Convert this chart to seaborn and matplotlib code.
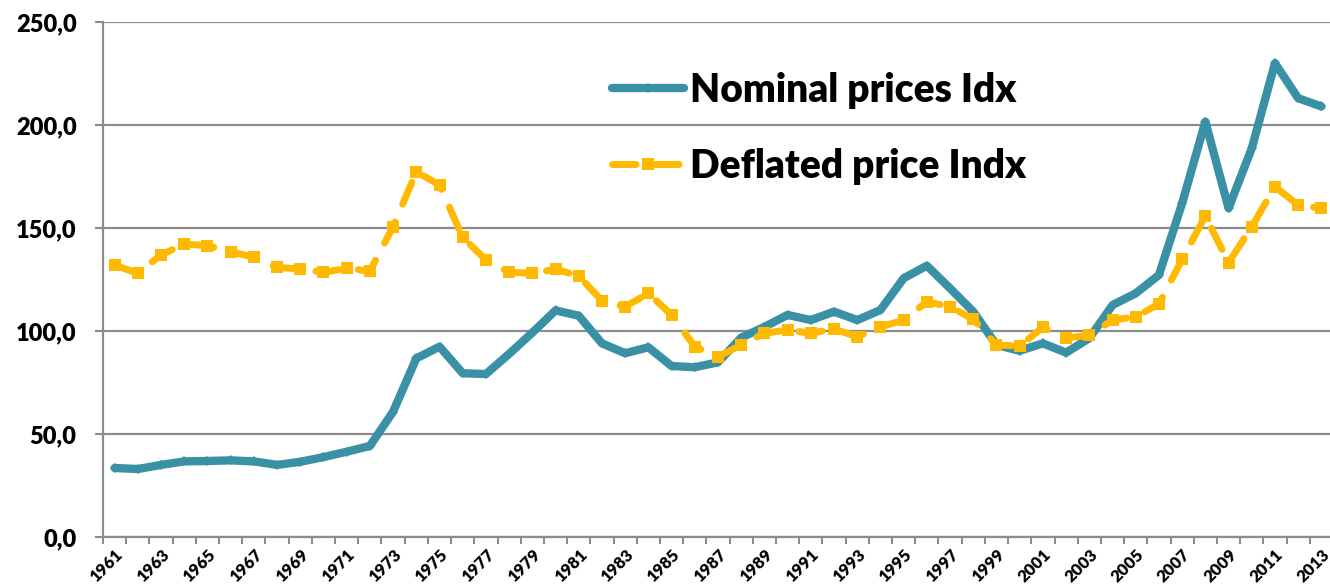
import numpy as np
import pandas as pd
import matplotlib
matplotlib.use("Agg")
import matplotlib.pyplot as plt
import seaborn as sns
from matplotlib.ticker import MultipleLocator, FixedLocator

years = list(range(1961, 2014))

nominal_idx = [33.5, 33.0, 35.0, 36.7, 36.9, 37.2, 36.7, 35.0, 36.5, 38.8,
               41.4, 44.2, 60.8, 86.7, 92.4, 79.5, 79.1, 88.9, 99.2, 110.0,
               107.4, 94.0, 89.2, 92.1, 83.0, 82.4, 84.8, 96.8, 102.0, 107.8,
               105.3, 109.4, 105.3, 110.2, 125.6, 131.7, 120.7, 109.4, 93.2, 90.4,
               94.0, 89.5, 96.5, 112.6, 118.3, 127.2, 162.0, 201.6, 159.6, 188.7,
               230.0, 213.0, 209.0]

deflated_idx = [132.0, 128.0, 136.9, 142.2, 141.4, 138.5, 135.8, 130.9, 130.1, 128.5,
                130.4, 129.1, 150.6, 177.3, 170.9, 145.5, 134.5, 128.5, 128.0, 130.0,
                126.7, 114.7, 111.8, 118.3, 107.8, 92.4, 87.5, 93.2, 98.9, 100.5,
                98.9, 101.0, 97.2, 102.0, 105.3, 114.2, 111.8, 105.7, 93.2, 92.7,
                101.8, 96.5, 98.0, 105.3, 106.9, 113.1, 134.8, 155.8, 133.2, 150.6,
                170.0, 161.2, 159.6]

y_ticks = [0, 50, 100, 150, 200, 250]

df = pd.DataFrame({"year": years, "nominal": nominal_idx, "deflated": deflated_idx})

sns.set_style("white")
plt.rcParams["font.family"] = ["Lato", "DejaVu Sans"]
plt.rcParams["text.color"] = "black"
plt.rcParams["xtick.labelcolor"] = "black"
plt.rcParams["ytick.labelcolor"] = "black"

fig = plt.figure(figsize=(13.3, 5.87), dpi=100)
ax = fig.add_axes([103 / 1330, 1 - 537 / 587, 1230 / 1330, 515 / 587])

blue = "#3A91A6"
gold = "#FFB900"

# nominal series: thick solid line with small diamonds
sns.lineplot(data=df, x="year", y="nominal", ax=ax, color=blue, linewidth=6,
             solid_capstyle="round", marker="D", markersize=5, markeredgewidth=0,
             label="Nominal prices Idx")
# deflated series: long dashes with square markers
sns.lineplot(data=df, x="year", y="deflated", ax=ax, color=gold, linewidth=5,
             linestyle=(0, (3.4, 2.8)), dash_capstyle="round",
             marker="s", markersize=8, markeredgewidth=0,
             label="Deflated price Indx")

ax.set_xlim(years[0] - 0.5, years[-1] + 0.5)
ax.set_ylim(0, 250)

ax.yaxis.set_major_locator(FixedLocator(y_ticks))
ax.set_yticklabels([f"{v:.1f}".replace(".", ",") for v in y_ticks],
                   fontsize=17, fontweight="heavy")
ax.grid(axis="y", color="#8c8c8c", linewidth=1.6)
ax.grid(axis="x", visible=False)
ax.set_axisbelow(True)

ax.set_xticks(years[::2])
ax.set_xticklabels([str(y) for y in years[::2]], rotation=45, ha="right",
                   rotation_mode="anchor", fontsize=12, fontweight="heavy")
ax.xaxis.set_minor_locator(MultipleLocator(1, offset=0.5))
ax.tick_params(axis="x", which="major", length=0, pad=7)
ax.tick_params(axis="x", which="minor", length=5, width=1.5, color="#8c8c8c",
               direction="out", bottom=True)
ax.tick_params(axis="y", which="major", length=6, width=1.5, color="#8c8c8c",
               direction="out", left=True, pad=13)

for side in ["top", "right"]:
    ax.spines[side].set_visible(False)
for side in ["left", "bottom"]:
    ax.spines[side].set_color("#8c8c8c")
    ax.spines[side].set_linewidth(1.6)

ax.set_xlabel("")
ax.set_ylabel("")

leg = ax.legend(loc="upper left", bbox_to_anchor=(612 / 1330, 1 - 72 / 587),
                bbox_transform=fig.transFigure, frameon=False,
                prop={"size": 28, "weight": "heavy"}, handlelength=1.85,
                handletextpad=0.15, labelspacing=1.0, borderpad=0,
                borderaxespad=0)

fig.savefig("out.png", dpi=100)
